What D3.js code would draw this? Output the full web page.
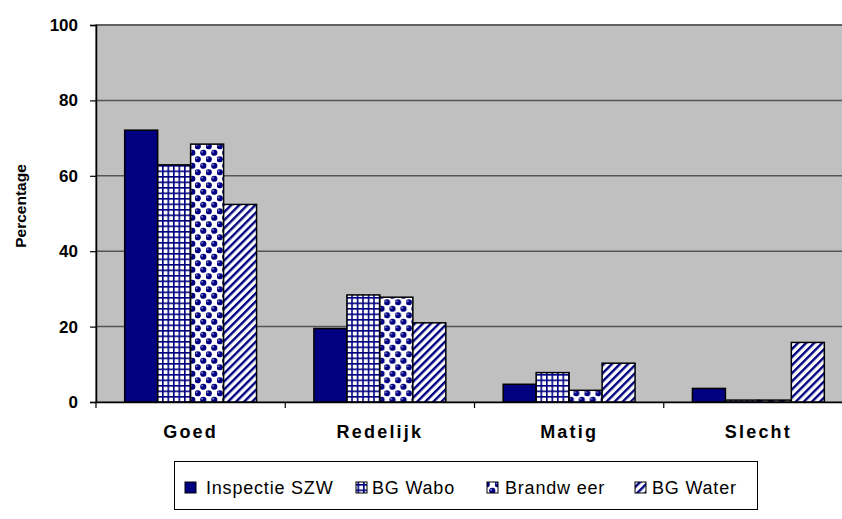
<!DOCTYPE html>
<html>
<head>
<meta charset="utf-8">
<script src="https://cdn.jsdelivr.net/npm/d3@7"></script>
<style>
  html, body { margin: 0; padding: 0; background: #fff; }
  svg { display: block; font-family: Arial, "Liberation Sans", sans-serif; }
</style>
</head>
<body>
<div id="chart"></div>
<script>
// chart values
var categories = ["Goed", "Redelijk", "Matig", "Slecht"];
var series = ["Inspectie SZW", "BG Wabo", "Brandw eer", "BG Water"];
var inspectieSZW = [72.1, 19.5, 4.7, 3.6];
var bgWabo = [62.9, 28.4, 7.8, 0.5];
var brandweer = [68.4, 27.8, 3.1, 0.5];
var bgWater = [52.4, 21.0, 10.3, 15.8];
var yTicks = [0, 20, 40, 60, 80, 100];

var seriesValues = [inspectieSZW, bgWabo, brandweer, bgWater];
var fills = ["#000080", "url(#pWabo)", "url(#pBrand)", "url(#pWater)"];

var width = 842, height = 519;
var plotL = 96, plotR = 853, plotT = 25, plotB = 402;

var svg = d3.select("#chart").append("svg")
  .attr("width", width)
  .attr("height", height);

// patterns
var defs = svg.append("defs");

var pw = defs.append("pattern").attr("id", "pWabo")
  .attr("patternUnits", "userSpaceOnUse").attr("width", 5.5).attr("height", 5.5);
pw.append("rect").attr("width", 5.5).attr("height", 5.5).attr("fill", "#fff");
pw.append("rect").attr("width", 5.5).attr("height", 1.6).attr("fill", "#000080");
pw.append("rect").attr("width", 1.6).attr("height", 5.5).attr("fill", "#000080");

// staggered navy balls on white
var pb = defs.append("pattern").attr("id", "pBrand")
  .attr("patternUnits", "userSpaceOnUse").attr("width", 11).attr("height", 13);
pb.append("rect").attr("width", 11).attr("height", 13).attr("fill", "#fff");
[[2.75, 3.25], [8.25, 9.75], [8.25, -3.25], [-2.75, 9.75], [13.75, 9.75], [2.75, 16.25]].forEach(function(c) {
  pb.append("circle").attr("cx", c[0]).attr("cy", c[1]).attr("r", 3.1).attr("fill", "#000080");
  pb.append("circle").attr("cx", c[0] - 1.1).attr("cy", c[1] - 1.1).attr("r", 1).attr("fill", "#7a7ac0");
});

var pt = defs.append("pattern").attr("id", "pWater")
  .attr("patternUnits", "userSpaceOnUse").attr("width", 5.7).attr("height", 5.7)
  .attr("patternTransform", "rotate(45)");
pt.append("rect").attr("width", 5.7).attr("height", 5.7).attr("fill", "#fff");
pt.append("rect").attr("width", 2.4).attr("height", 5.7).attr("fill", "#000080");

// scales
var x = d3.scaleBand().domain(categories).range([plotL, plotR]);
var x1 = d3.scaleBand().domain(series).range([0, x.bandwidth()]).paddingOuter(0.87);
var y = d3.scaleLinear().domain([0, 100]).range([plotB, plotT]);

// plot area
svg.append("rect")
  .attr("x", plotL).attr("y", plotT)
  .attr("width", plotR - plotL).attr("height", plotB - plotT)
  .attr("fill", "#c0c0c0")
  .attr("stroke", "#666").attr("stroke-width", 1.5);

// gridlines
svg.append("g").selectAll("line")
  .data(yTicks.filter(function(d) { return d > 0; }))
  .enter().append("line")
  .attr("x1", plotL).attr("x2", plotR)
  .attr("y1", function(d) { return y(d); })
  .attr("y2", function(d) { return y(d); })
  .attr("stroke", "#555").attr("stroke-width", 1.5);

// bars
var groups = svg.append("g").selectAll("g")
  .data(categories)
  .enter().append("g")
  .attr("transform", function(d) { return "translate(" + x(d) + ",0)"; });

groups.selectAll("rect")
  .data(function(d, ci) {
    return series.map(function(s, si) {
      return { s: s, v: seriesValues[si][ci], fill: fills[si] };
    });
  })
  .enter().append("rect")
  .attr("x", function(d) { return x1(d.s); })
  .attr("width", x1.bandwidth())
  .attr("y", function(d) { return y(d.v); })
  .attr("height", function(d) { return plotB - y(d.v); })
  .attr("fill", function(d) { return d.fill; })
  .attr("stroke", "#000").attr("stroke-width", 1.5);

// y axis
var yAxis = svg.append("g")
  .attr("transform", "translate(" + plotL + ",0)")
  .call(d3.axisLeft(y).tickValues(yTicks).tickSize(6).tickPadding(12));
yAxis.select(".domain").attr("stroke", "#000").attr("stroke-width", 1.5);
yAxis.selectAll(".tick line").attr("stroke", "#000").attr("stroke-width", 1.2);
yAxis.selectAll("text")
  .attr("fill", "#000")
  .style("font-size", "17px").style("font-weight", "bold")
  .style("font-family", "Arial, 'Liberation Sans', sans-serif");

// x axis
var xAxis = svg.append("g")
  .attr("transform", "translate(0," + plotB + ")")
  .call(d3.axisBottom(x).tickSize(0).tickPadding(23));
xAxis.select(".domain").attr("stroke", "#000").attr("stroke-width", 1.5);
xAxis.selectAll("text")
  .attr("fill", "#000")
  .style("font-size", "18px").style("font-weight", "bold")
  .style("letter-spacing", "2.2px")
  .style("font-family", "Arial, 'Liberation Sans', sans-serif");

// category boundary ticks
svg.append("g").selectAll("line")
  .data(categories)
  .enter().append("line")
  .attr("x1", function(d) { return x(d); })
  .attr("x2", function(d) { return x(d); })
  .attr("y1", plotB).attr("y2", plotB + 6)
  .attr("stroke", "#000").attr("stroke-width", 1.2);

// y title
svg.append("text")
  .attr("transform", "translate(26,206) rotate(-90)")
  .attr("text-anchor", "middle")
  .style("font-size", "15.5px").style("font-weight", "bold")
  .text("Percentage");

// legend
var legend = svg.append("g");
legend.append("rect")
  .attr("x", 174.5).attr("y", 461.5)
  .attr("width", 583).attr("height", 48)
  .attr("fill", "#fff").attr("stroke", "#000").attr("stroke-width", 1);

var legendMarkX = [185, 356, 487, 635];
var legendTextX = [206, 372, 505, 652];
var items = legend.selectAll("g.item")
  .data(series)
  .enter().append("g")
  .attr("class", "item");
items.append("rect")
  .attr("x", function(d, i) { return legendMarkX[i]; })
  .attr("y", 482)
  .attr("width", 11).attr("height", 11)
  .attr("fill", function(d, i) { return fills[i]; })
  .attr("stroke", "#000").attr("stroke-width", 1);
items.append("text")
  .attr("x", function(d, i) { return legendTextX[i]; })
  .attr("y", 494)
  .style("font-size", "18px")
  .style("letter-spacing", "0.8px")
  .text(function(d) { return d; });
</script>
</body>
</html>
